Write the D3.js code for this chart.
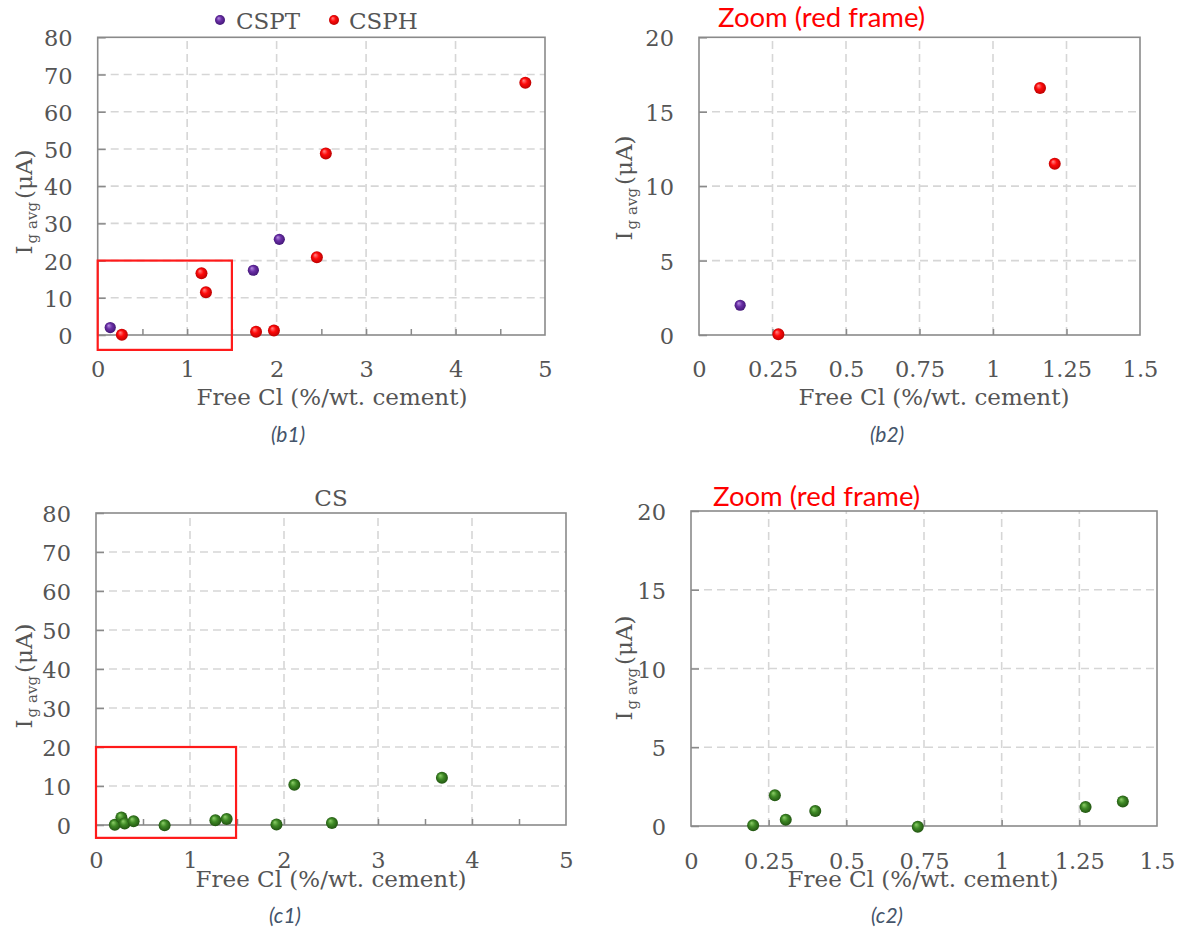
<!DOCTYPE html>
<html>
<head>
<meta charset="utf-8">
<script src="https://cdn.jsdelivr.net/npm/d3@7"></script>
<style>
  html, body { margin: 0; padding: 0; background: #fff; }
  svg { display: block; }
</style>
</head>
<body>
<svg id="chart" width="1187" height="929"></svg>
<script>
// ---------------- DATA ----------------
// Panel (b): CSPT and CSPH series
const csptX = [0.14, 1.74, 2.03];
const csptY = [2.0, 17.4, 25.7];
const csphX = [0.27, 1.16, 1.21, 1.77, 1.97, 2.45, 2.55, 4.78];
const csphY = [0.05, 16.6, 11.5, 0.9, 1.2, 20.9, 48.8, 67.8];
// Panel (c): CS series
const csX = [0.20, 0.27, 0.305, 0.40, 0.73, 1.27, 1.39, 1.92, 2.11, 2.51, 3.68];
const csY = [0.05, 1.95, 0.4, 0.95, -0.05, 1.2, 1.55, 0.15, 10.3, 0.5, 12.1];

// Axis ticks
const fullXTicks = [0, 1, 2, 3, 4, 5];
const fullXMinor = [0.5, 1, 1.5, 2, 2.5, 3, 3.5, 4, 4.5];
const fullYTicks = [0, 10, 20, 30, 40, 50, 60, 70, 80];
const zoomXTicks = [0, 0.25, 0.5, 0.75, 1, 1.25, 1.5];
const zoomXMinor = [0.25, 0.5, 0.75, 1, 1.25];
const zoomYTicks = [0, 5, 10, 15, 20];

// Red zoom frames (data units of the full panels)
const frameB1X = [0, 1.5], frameB1Y = [-4, 20];
const frameC1X = [0, 1.49], frameC1Y = [-3.3, 20];

// Texts
const seriesNames = ["CSPT", "CSPH"];
const xTitle = "Free Cl (%/wt. cement)";
const zoomTitle = "Zoom (red frame)";
const csTitle = "CS";
const captions = ["(b1)", "(b2)", "(c1)", "(c2)"];

// ---------------- DRAW ----------------
const svg = d3.select("#chart");
svg.append("rect").attr("width", 1187).attr("height", 929).attr("fill", "#fff");

const SERIF = "'DejaVu Serif', serif";
const SANS = "Lato, 'Open Sans', sans-serif";
const TXT = "#555555";
const AX = "#8a8a8a";
const GRID = "#d6d6d6";

// sphere gradients
const defs = svg.append("defs");
function sphere(id, light, base, dark) {
  const g = defs.append("radialGradient").attr("id", id)
    .attr("cx", "50%").attr("cy", "50%").attr("r", "55%")
    .attr("fx", "35%").attr("fy", "30%");
  g.append("stop").attr("offset", "0%").attr("stop-color", light);
  g.append("stop").attr("offset", "45%").attr("stop-color", base);
  g.append("stop").attr("offset", "100%").attr("stop-color", dark);
}
sphere("gPurple", "#b58ee0", "#6a2fa6", "#3d1470");
sphere("gRed", "#ff8a8a", "#ff0a0a", "#b30000");
sphere("gGreen", "#8fd06a", "#3f8a26", "#1d4d0e");

function zip(xs, ys) { return xs.map((v, i) => ({x: v, y: ys[i]})); }

function panel(cfg) {
  const g = svg.append("g");
  const x = d3.scaleLinear().domain(cfg.xDomain).range([cfg.L, cfg.R]);
  const y = d3.scaleLinear().domain(cfg.yDomain).range([cfg.B, cfg.T]);

  // grid
  const gx = cfg.xTicks.filter(v => v > cfg.xDomain[0] && v < cfg.xDomain[1]);
  const gy = cfg.yTicks.filter(v => v > cfg.yDomain[0] && v < cfg.yDomain[1]);
  g.selectAll(".vg").data(gx).join("line")
    .attr("x1", d => x(d)).attr("x2", d => x(d))
    .attr("y1", cfg.B).attr("y2", cfg.T)
    .attr("stroke", GRID).attr("stroke-width", 1.6).attr("stroke-dasharray", "8,5");
  g.selectAll(".hg").data(gy).join("line")
    .attr("x1", cfg.L).attr("x2", cfg.R)
    .attr("y1", d => y(d)).attr("y2", d => y(d))
    .attr("stroke", GRID).attr("stroke-width", 1.6).attr("stroke-dasharray", "8,5");

  // frame
  g.append("rect").attr("x", cfg.L).attr("y", cfg.T)
    .attr("width", cfg.R - cfg.L).attr("height", cfg.B - cfg.T)
    .attr("fill", "none").attr("stroke", AX).attr("stroke-width", 1.6);

  // minor x ticks (inward)
  const minor = g.append("g").attr("transform", `translate(0,${cfg.B})`)
    .call(d3.axisBottom(x).tickValues(cfg.xMinor).tickSize(-6).tickFormat(""));
  minor.select(".domain").remove();
  minor.selectAll("line").attr("stroke", AX).attr("stroke-width", 1.5);

  // x labels
  const xa = g.append("g").attr("transform", `translate(0,${cfg.B})`)
    .call(d3.axisBottom(x).tickValues(cfg.xTicks).tickSize(0).tickFormat(d3.format("")));
  xa.select(".domain").remove();
  xa.selectAll("text").attr("y", cfg.xLabelDy).attr("dy", 0)
    .attr("font-family", SERIF).attr("font-size", 22.5).attr("fill", TXT);

  // y axis
  const ya = g.append("g").attr("transform", `translate(${cfg.L},0)`)
    .call(d3.axisLeft(y).tickValues(cfg.yTicks).tickSize(-8).tickPadding(25).tickFormat(d3.format("")));
  ya.select(".domain").remove();
  ya.selectAll("line").attr("stroke", AX).attr("stroke-width", 1.5);
  ya.selectAll("text").attr("x", -25).attr("dy", "0.38em")
    .attr("font-family", SERIF).attr("font-size", 22.5).attr("fill", TXT);

  // axis titles
  g.append("text").attr("x", cfg.xTitleX).attr("y", cfg.xTitleY)
    .attr("text-anchor", "middle").attr("font-family", SERIF).attr("font-size", 23)
    .attr("fill", TXT).text(xTitle);

  const yt = g.append("text")
    .attr("transform", `translate(${cfg.yTitleX},${cfg.yTitleY}) rotate(-90)`)
    .attr("text-anchor", "middle").attr("font-family", SERIF).attr("font-size", 23)
    .attr("fill", TXT);
  yt.append("tspan").text("I");
  yt.append("tspan").attr("font-size", 15).attr("dy", 5).attr("dx", 2).text("g avg");
  yt.append("tspan").attr("dy", -5).attr("dx", 3).text("(\u03bcA)");

  // red frame
  if (cfg.frameX) {
    g.append("rect")
      .attr("x", x(cfg.frameX[0])).attr("y", y(cfg.frameY[1]))
      .attr("width", x(cfg.frameX[1]) - x(cfg.frameX[0]))
      .attr("height", y(cfg.frameY[0]) - y(cfg.frameY[1]))
      .attr("fill", "none").attr("stroke", "#ff1a1a").attr("stroke-width", 2.2);
  }

  // points
  const inDom = d => d.x >= cfg.xDomain[0] && d.x <= cfg.xDomain[1] &&
                     d.y >= cfg.yDomain[0] - 1 && d.y <= cfg.yDomain[1];
  cfg.series.forEach(s => {
    g.selectAll(null).data(zip(s.xs, s.ys).filter(inDom)).join("circle")
      .attr("cx", d => x(d.x)).attr("cy", d => y(d.y)).attr("r", s.r)
      .attr("fill", `url(#${s.grad})`);
  });

  // caption
  g.append("text").attr("x", cfg.capX).attr("y", cfg.capY)
    .attr("text-anchor", "middle").attr("font-family", SANS).attr("font-style", "italic")
    .attr("font-size", 21).attr("fill", "#44546A").text(cfg.caption);
  return {x, y};
}

const bSeries = [
  {xs: csptX, ys: csptY, grad: "gPurple", r: 5.6},
  {xs: csphX, ys: csphY, grad: "gRed", r: 6}
];
const cSeries = [{xs: csX, ys: csY, grad: "gGreen", r: 6}];

panel({L: 97.7, R: 545, T: 37.3, B: 335, xDomain: [0, 5], yDomain: [0, 80],
  xTicks: fullXTicks, xMinor: fullXMinor, yTicks: fullYTicks, xLabelDy: 42,
  xTitleX: 332, xTitleY: 405, yTitleX: 32, yTitleY: 202,
  frameX: frameB1X, frameY: frameB1Y, series: bSeries,
  caption: captions[0], capX: 288, capY: 442});

panel({L: 699, R: 1140, T: 37.3, B: 335, xDomain: [0, 1.5], yDomain: [0, 20],
  xTicks: zoomXTicks, xMinor: zoomXMinor, yTicks: zoomYTicks, xLabelDy: 42,
  xTitleX: 934, xTitleY: 405, yTitleX: 632, yTitleY: 188,
  series: bSeries, caption: captions[1], capX: 887, capY: 442});

panel({L: 96, R: 566, T: 513, B: 825, xDomain: [0, 5], yDomain: [0, 80],
  xTicks: fullXTicks, xMinor: fullXMinor, yTicks: fullYTicks, xLabelDy: 43,
  xTitleX: 331, xTitleY: 887, yTitleX: 32, yTitleY: 676,
  frameX: frameC1X, frameY: frameC1Y, series: cSeries,
  caption: captions[2], capX: 285, capY: 923});

panel({L: 691, R: 1157, T: 511, B: 826, xDomain: [0, 1.5], yDomain: [0, 20],
  xTicks: zoomXTicks, xMinor: zoomXMinor, yTicks: zoomYTicks, xLabelDy: 43,
  xTitleX: 923, xTitleY: 887, yTitleX: 632, yTitleY: 668,
  series: cSeries, caption: captions[3], capX: 887, capY: 923});

// legend (panel b1)
const legend = svg.append("g");
const legendItems = [
  {name: seriesNames[0], grad: "gPurple", dx: 220, tx: 236},
  {name: seriesNames[1], grad: "gRed", dx: 334, tx: 349}
];
legendItems.forEach(it => {
  legend.append("circle").attr("cx", it.dx).attr("cy", 20).attr("r", 5).attr("fill", `url(#${it.grad})`);
  legend.append("text").attr("x", it.tx).attr("y", 29).attr("font-family", SERIF)
    .attr("font-size", 23).attr("fill", TXT).text(it.name);
});

// panel titles
svg.append("text").attr("x", 331).attr("y", 506).attr("text-anchor", "middle")
  .attr("font-family", SERIF).attr("font-size", 23).attr("fill", TXT).text(csTitle);
svg.append("text").attr("x", 718).attr("y", 27).attr("font-family", SANS)
  .attr("font-size", 27.5).attr("fill", "#ff0000").text(zoomTitle);
svg.append("text").attr("x", 713).attr("y", 506).attr("font-family", SANS)
  .attr("font-size", 27.5).attr("fill", "#ff0000").text(zoomTitle);
</script>
</body>
</html>
